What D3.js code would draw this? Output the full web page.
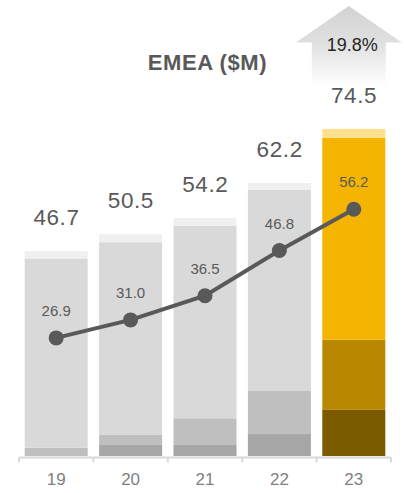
<!DOCTYPE html>
<html>
<head>
<meta charset="utf-8">
<script src="https://cdn.jsdelivr.net/npm/d3@7"></script>
<style>
  html, body { margin: 0; padding: 0; background: #ffffff; }
  svg { display: block; font-family: "Liberation Sans", Arial, sans-serif; }
</style>
</head>
<body>
<svg id="chart" width="404" height="493"></svg>
<script>
// Fiscal years on the category axis
const years = ["19", "20", "21", "22", "23"];

// Stacked revenue components per year ($M), bottom to top
const segBase = [0, 2.5, 2.5, 5.0, 10.5];
const segMid  = [1.9, 2.3, 6.1, 9.8, 16.0];
const segMain = [43.1, 43.9, 43.8, 45.8, 46.0];
const segTop  = [1.7, 1.8, 1.8, 1.6, 2.0];

// Bar totals shown above each column
const totals = [46.7, 50.5, 54.2, 62.2, 74.5];

// Line series drawn over the bars
const lineValues = [26.9, 31.0, 36.5, 46.8, 56.2];

// Growth callout
const growthLabel = "19.8%";
const title = "EMEA ($M)";

const svg = d3.select("#chart");

const keys = ["base", "mid", "main", "top"];
const table = years.map((yr, i) => ({
  year: yr,
  base: segBase[i],
  mid: segMid[i],
  main: segMain[i],
  top: segTop[i],
  total: totals[i],
  line: lineValues[i]
}));

const greyFill = { base: "#a6a6a6", mid: "#bfbfbf", main: "#d9d9d9", top: "#f0f0f0" };
const goldFill = { base: "#7b5a00", mid: "#ba8800", main: "#f4b400", top: "#ffe08f" };
const highlightYear = years[years.length - 1];

const x = d3.scaleBand()
  .domain(years)
  .range([19, 391])
  .paddingInner(0.153)
  .paddingOuter(0.0765);

const y = d3.scaleLinear()
  .domain([0, 80])
  .range([456, 456 - 80 * 4.39]);

const stacked = d3.stack().keys(keys)(table);

// Growth arrow above the latest column, fading into the background
const defs = svg.append("defs");
const grad = defs.append("linearGradient")
  .attr("id", "arrowFade")
  .attr("gradientUnits", "userSpaceOnUse")
  .attr("x1", 0).attr("y1", 6)
  .attr("x2", 0).attr("y2", 86);
grad.append("stop").attr("offset", "0%").attr("stop-color", "#d3d3d3");
grad.append("stop").attr("offset", "45%").attr("stop-color", "#dfdfdf");
grad.append("stop").attr("offset", "100%").attr("stop-color", "#ffffff");

const ax = x(highlightYear) + x.bandwidth() / 2 - 5;
const arrow = d3.path();
arrow.moveTo(ax, 6);
arrow.lineTo(ax + 53, 42.5);
arrow.lineTo(ax + 37, 42.5);
arrow.lineTo(ax + 37, 86);
arrow.lineTo(ax - 37, 86);
arrow.lineTo(ax - 37, 42.5);
arrow.lineTo(ax - 53, 42.5);
arrow.closePath();

svg.append("path")
  .attr("d", arrow.toString())
  .attr("fill", "url(#arrowFade)");

svg.append("text")
  .attr("x", ax + 3.5)
  .attr("y", 51)
  .attr("text-anchor", "middle")
  .attr("font-size", 18)
  .attr("fill", "#262626")
  .text(growthLabel);

// Stacked columns
const layers = svg.append("g").attr("class", "bars")
  .selectAll("g")
  .data(stacked)
  .join("g");

layers.selectAll("rect")
  .data(layer => layer.map(d => ({ key: layer.key, d })))
  .join("rect")
  .attr("x", p => x(p.d.data.year))
  .attr("width", x.bandwidth())
  .attr("y", p => y(p.d[1]))
  .attr("height", p => y(p.d[0]) - y(p.d[1]))
  .attr("fill", p => (p.d.data.year === highlightYear ? goldFill : greyFill)[p.key]);

// Category axis: baseline plus separators between the columns
const axisG = svg.append("g")
  .attr("transform", "translate(0,457.5)")
  .call(d3.axisBottom(x).tickSize(0).tickPadding(15));
axisG.select(".domain")
  .attr("d", `M${x.range()[0]},0H${x.range()[1]}`)
  .attr("stroke", "#d9d9d9")
  .attr("stroke-width", 2);
axisG.selectAll(".tick text")
  .attr("fill", "#7f7f7f")
  .attr("font-size", 17)
  .attr("font-family", "'Liberation Sans', Arial, sans-serif")
  .attr("dy", "0.71em");

const step = x.step();
const edges = years.map(yr => x(yr) - step * x.paddingInner() / 2)
  .concat([x(highlightYear) + x.bandwidth() + step * x.paddingInner() / 2]);
axisG.selectAll("line.sep")
  .data(edges)
  .join("line")
  .attr("class", "sep")
  .attr("x1", d => d).attr("x2", d => d)
  .attr("y1", 0).attr("y2", 5)
  .attr("stroke", "#d9d9d9")
  .attr("stroke-width", 2);

// Totals above each column
svg.append("g").attr("class", "totals")
  .selectAll("text")
  .data(table)
  .join("text")
  .attr("x", d => x(d.year) + x.bandwidth() / 2 + 0.3)
  .attr("y", d => y(d.total) - 26)
  .attr("text-anchor", "middle")
  .attr("font-size", 22.5)
  .attr("letter-spacing", 0.6)
  .attr("fill", "#595959")
  .text(d => d.total.toFixed(1));

// Line series with markers
const cx = d => x(d.year) + x.bandwidth() / 2;
const line = d3.line().x(cx).y(d => y(d.line));

svg.append("path")
  .datum(table)
  .attr("d", line)
  .attr("fill", "none")
  .attr("stroke", "#595959")
  .attr("stroke-width", 4);

svg.append("g").attr("class", "dots")
  .selectAll("circle")
  .data(table)
  .join("circle")
  .attr("cx", cx)
  .attr("cy", d => y(d.line))
  .attr("r", 7.5)
  .attr("fill", "#595959");

svg.append("g").attr("class", "line-labels")
  .selectAll("text")
  .data(table)
  .join("text")
  .attr("x", cx)
  .attr("y", d => y(d.line) - 22)
  .attr("text-anchor", "middle")
  .attr("font-size", 15)
  .attr("fill", "#595959")
  .text(d => d.line.toFixed(1));

// Title
svg.append("text")
  .attr("x", 207.5)
  .attr("y", 70)
  .attr("text-anchor", "middle")
  .attr("font-size", 22)
  .attr("font-weight", "bold")
  .attr("letter-spacing", 0.6)
  .attr("fill", "#595959")
  .text(title);
</script>
</body>
</html>
